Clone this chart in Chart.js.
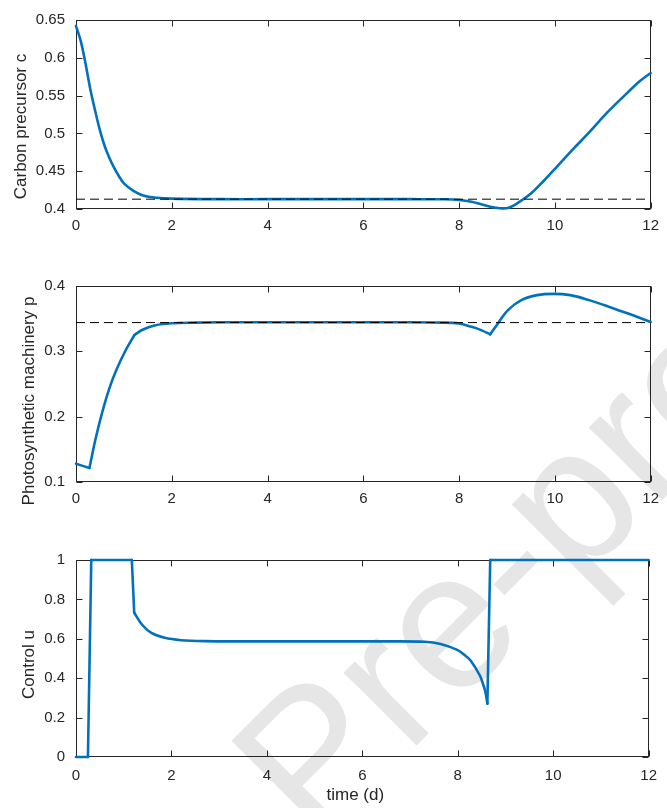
<!DOCTYPE html>
<html>
<head>
<meta charset="utf-8">
<script src="https://cdn.jsdelivr.net/npm/chart.js@4.4.1/dist/chart.umd.min.js"></script>
<style>
  html, body { margin: 0; padding: 0; background: #fff; }
  #page { position: relative; width: 667px; height: 808px; overflow: hidden; }
  #wm { position: absolute; left: 0; top: 0; }
  canvas { position: absolute; left: 0; }
</style>
</head>
<body>
<div id="page">
  <svg id="wm" width="667" height="808">
    <text x="315" y="847" transform="rotate(-45 315 847)" font-family="Liberation Sans, Arial, sans-serif" font-size="195" fill="#e6e6e6">Pre-proof</text>
  </svg>
  <canvas id="c1" style="top:0px" width="667" height="262"></canvas>
  <canvas id="c2" style="top:262px" width="667" height="270"></canvas>
  <canvas id="c3" style="top:532px" width="667" height="276"></canvas>
</div>
<script>
// time axis (days)
const xTicks = [0, 2, 4, 6, 8, 10, 12];

// carbon precursor c
const tC = [0, 0.1, 0.2, 0.3, 0.4, 0.5, 0.6, 0.7, 0.8, 0.9, 1.0, 1.2, 1.4, 1.7, 2.0, 3, 4, 5, 6, 7, 7.7,
            8.0, 8.26, 8.46, 8.65, 8.81, 9.02, 9.22, 9.50, 9.77, 10.05, 10.39, 10.74, 11.08, 11.42, 11.77, 12];
const cVals = [0.642, 0.622, 0.592, 0.558, 0.530, 0.504, 0.483, 0.467, 0.454, 0.443, 0.434, 0.424, 0.418, 0.4148, 0.4137, 0.413, 0.413, 0.413, 0.413, 0.413, 0.4128,
               0.412, 0.4097, 0.4062, 0.4030, 0.4013, 0.4013, 0.4077, 0.4204, 0.4374, 0.4565, 0.4798, 0.503, 0.5267, 0.548, 0.569, 0.580];
const cStar = 0.413;
const cTicks = [0.4, 0.45, 0.5, 0.55, 0.6, 0.65];

// photosynthetic machinery p
const tP = [0, 0.28, 0.42, 0.56, 0.70, 0.84, 1.04, 1.22, 1.39, 1.66, 2.0, 2.5, 3, 4, 5, 6, 7, 7.6,
            7.99, 8.26, 8.46, 8.65, 8.81, 9.02, 9.29, 9.63, 9.97, 10.32, 10.73, 11.14, 11.56, 12];
const pVals = [0.128, 0.1214, 0.1696, 0.210, 0.244, 0.271, 0.302, 0.325, 0.333, 0.340, 0.343, 0.344, 0.3445, 0.3445, 0.3445, 0.3445, 0.3445, 0.344,
               0.3427, 0.3375, 0.3325, 0.326, 0.3427, 0.363, 0.378, 0.386, 0.388, 0.386, 0.378, 0.368, 0.357, 0.345];
const pKinks = [0.28, 1.22, 8.65];
const pStar = 0.344;
const pTicks = [0.1, 0.2, 0.3, 0.4];

// control u
const tU = [0, 0.25, 0.32, 1.17, 1.22, 1.39, 1.58, 1.86, 2.2, 2.69, 3.5, 5, 6.5, 7.3, 7.64, 7.99, 8.13, 8.26, 8.46, 8.53, 8.58, 8.62, 8.68, 12];
const uVals = [0, 0, 1, 1, 0.732, 0.670, 0.630, 0.605, 0.593, 0.588, 0.587, 0.587, 0.587, 0.585, 0.574, 0.544, 0.52, 0.492, 0.415, 0.370, 0.330, 0.271, 1, 1];
const uKinks = [0.25, 0.32, 1.17, 1.22, 8.62, 8.68];
const uTicks = [0, 0.2, 0.4, 0.6, 0.8, 1];

const BLUE = '#0072BD';
const INK = '#262626';
const FONT = 'Liberation Sans, Arial, Helvetica, sans-serif';

// split a series at kink times so each piece is smoothed on its own
function pieces(ts, ys, kinks) {
  const out = [];
  let cur = [];
  ts.forEach((t, i) => {
    cur.push({ x: t, y: ys[i] });
    if (kinks.includes(t) && cur.length > 1) {
      out.push(cur);
      cur = [{ x: t, y: ys[i] }];
    }
  });
  if (cur.length > 1) out.push(cur);
  return out;
}

const framePlugin = {
  id: 'frame',
  beforeDatasetsDraw(chart, args, opts) {
    const { ctx, chartArea: a, scales: { x, y } } = chart;
    ctx.save();
    ctx.strokeStyle = INK;
    ctx.lineWidth = 1;
    const L = Math.round(a.left) + 0.5, R = Math.round(a.right) - 0.5;
    const T = Math.round(a.top) + 0.5, B = Math.round(a.bottom) - 0.5;
    ctx.strokeRect(L, T, R - L, B - T);
    ctx.beginPath();
    x.ticks.forEach(t => {
      const px = Math.round(x.getPixelForValue(t.value)) + 0.5;
      ctx.moveTo(px, B); ctx.lineTo(px, B - 6);
      ctx.moveTo(px, T); ctx.lineTo(px, T + 6);
    });
    y.ticks.forEach(t => {
      const py = Math.round(y.getPixelForValue(t.value)) + 0.5;
      ctx.moveTo(L, py); ctx.lineTo(L + 6, py);
      ctx.moveTo(R, py); ctx.lineTo(R - 6, py);
    });
    ctx.stroke();
    ctx.restore();
  },
  afterDraw(chart, args, opts) {
    const { ctx, chartArea: a } = chart;
    ctx.save();
    ctx.fillStyle = INK;
    ctx.font = '17px ' + FONT;
    ctx.textAlign = 'center';
    ctx.textBaseline = 'middle';
    ctx.translate(opts.labelX, (a.top + a.bottom) / 2 + opts.shift);
    ctx.rotate(-Math.PI / 2);
    ctx.fillText(opts.ylabel, 0, 0);
    ctx.restore();
    if (opts.xlabel) {
      ctx.save();
      ctx.fillStyle = INK;
      ctx.font = '17px ' + FONT;
      ctx.textAlign = 'center';
      ctx.textBaseline = 'middle';
      ctx.fillText(opts.xlabel, (a.left + a.right) / 2 - 7, opts.xlabelY);
      ctx.restore();
    }
  }
};

const fmt = v => String(+Number(v).toFixed(2));

function makeChart(id, cfg) {
  const datasets = [];
  if (cfg.star !== undefined) {
    datasets.push({
      data: [{ x: 0, y: cfg.star }, { x: 12, y: cfg.star }],
      borderColor: '#000', borderWidth: 1, borderDash: [9, 5], order: 0
    });
  }
  pieces(cfg.t, cfg.v, cfg.kinks).forEach(seg => {
    datasets.push({
      data: seg, borderColor: BLUE, borderWidth: 2.6, order: 1, clip: 4,
      tension: 0.35, borderCapStyle: 'round', borderJoinStyle: 'round'
    });
  });
  return new Chart(document.getElementById(id), {
    type: 'line',
    data: { datasets },
    options: {
      responsive: false,
      animation: false,
      layout: { padding: { top: cfg.padTop, right: 9, left: 0, bottom: 0 } },
      elements: { point: { radius: 0 } },
      plugins: {
        legend: { display: false },
        tooltip: { enabled: false },
        frame: { ylabel: cfg.ylabel, labelX: cfg.labelX, shift: cfg.shift, xlabel: cfg.xlabel, xlabelY: cfg.xlabelY }
      },
      scales: {
        x: {
          type: 'linear', min: 0, max: 12,
          afterBuildTicks: s => { s.ticks = xTicks.map(v => ({ value: v })); },
          afterFit: s => { s.height = cfg.xH; },
          grid: { display: false, drawTicks: false },
          border: { display: false },
          ticks: { color: INK, font: { family: FONT, size: 15 }, padding: cfg.xPad, maxRotation: 0, autoSkip: false }
        },
        y: {
          type: 'linear', min: cfg.yTicks[0], max: cfg.yTicks[cfg.yTicks.length - 1],
          afterBuildTicks: s => { s.ticks = cfg.yTicks.map(v => ({ value: v })); },
          afterFit: s => { s.width = 76; },
          grid: { display: false, drawTicks: false },
          border: { display: false },
          ticks: { color: INK, font: { family: FONT, size: 15 }, padding: 11, callback: fmt, autoSkip: false }
        }
      }
    },
    plugins: [framePlugin]
  });
}

makeChart('c1', {
  t: tC, v: cVals, kinks: [], star: cStar, yTicks: cTicks,
  padTop: 13, xH: 53, xPad: 8,
  ylabel: 'Carbon precursor c', labelX: 21, shift: 12
});
makeChart('c2', {
  t: tP, v: pVals, kinks: pKinks, star: pStar, yTicks: pTicks,
  padTop: 24, xH: 50, xPad: 8,
  ylabel: 'Photosynthetic machinery p', labelX: 29.5, shift: 17
});
makeChart('c3', {
  t: tU, v: uVals, kinks: uKinks, yTicks: uTicks,
  padTop: 28, xH: 51, xPad: 10,
  ylabel: 'Control u', labelX: 29, shift: 6,
  xlabel: 'time (d)', xlabelY: 795 - 532
});
</script>
</body>
</html>
